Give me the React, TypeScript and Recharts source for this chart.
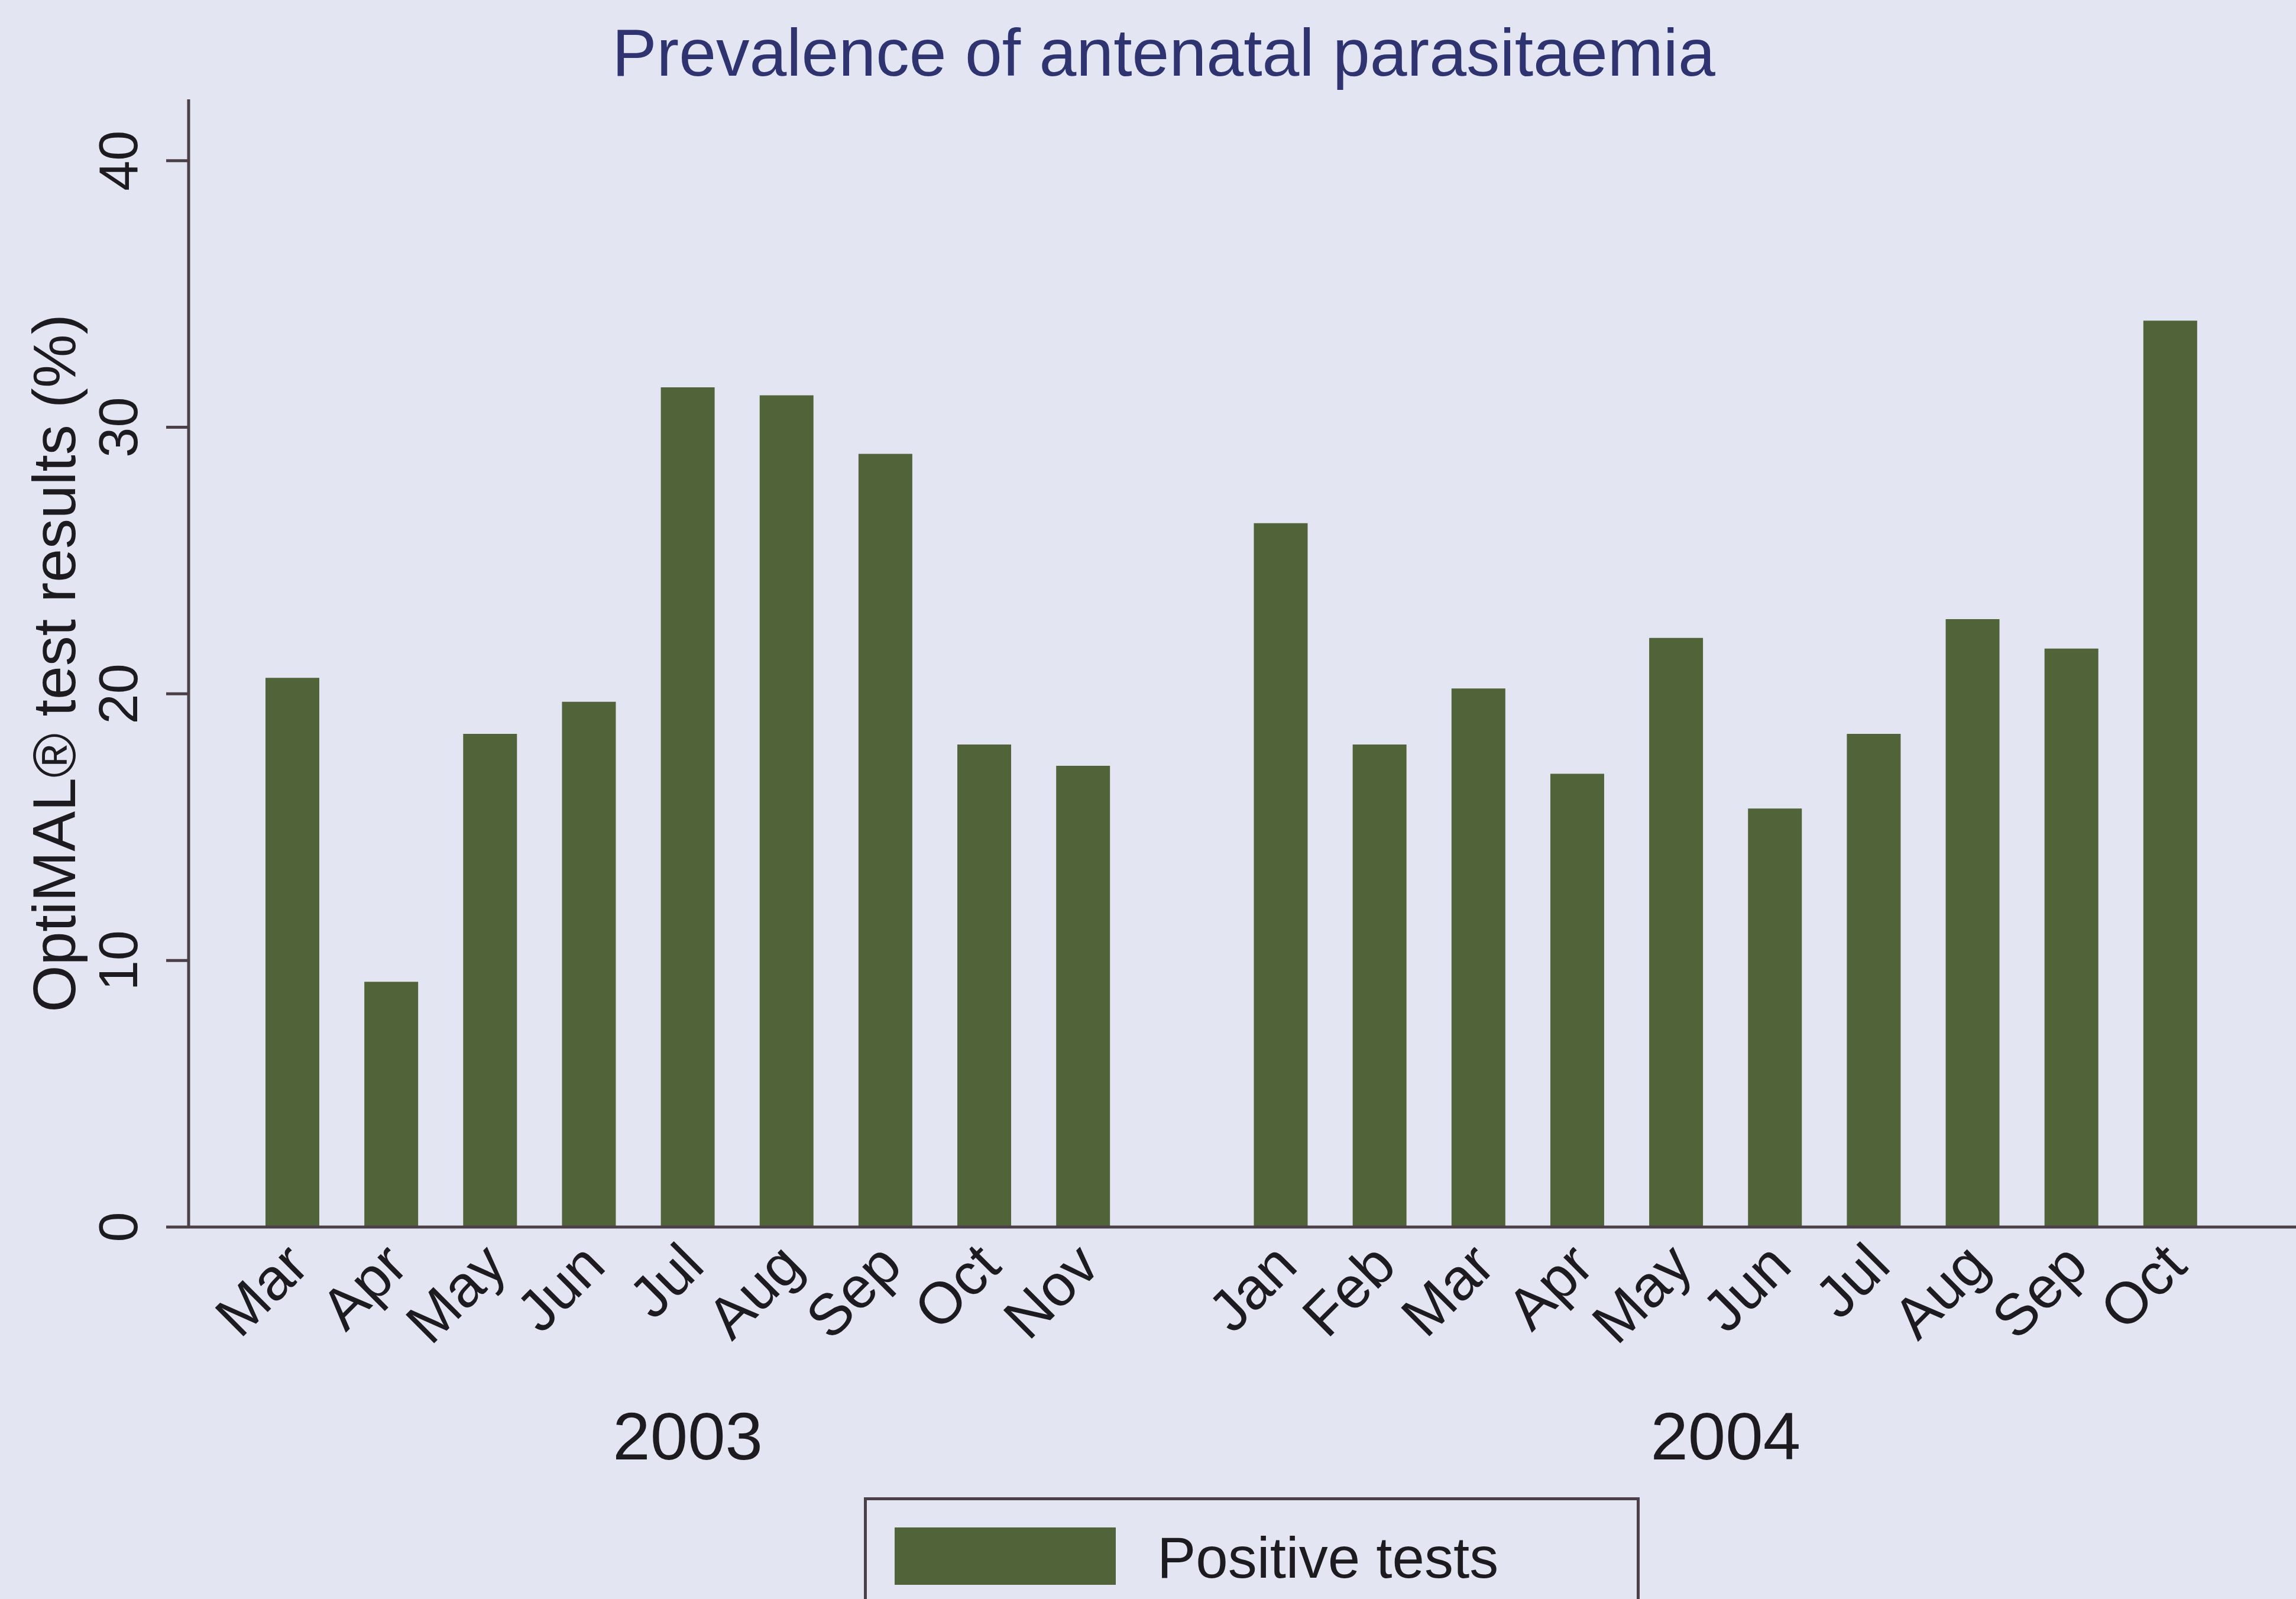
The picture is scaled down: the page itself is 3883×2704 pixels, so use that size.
import React from "react"
import { Bar, BarChart, XAxis, YAxis } from "recharts"

// monthly share of positive OptiMAL tests (%)
const months2003 = ["Mar", "Apr", "May", "Jun", "Jul", "Aug", "Sep", "Oct", "Nov"]
const positive2003 = [20.6, 9.2, 18.5, 19.7, 31.5, 31.2, 29.0, 18.1, 17.3]
const months2004 = ["Jan", "Feb", "Mar", "Apr", "May", "Jun", "Jul", "Aug", "Sep", "Oct"]
const positive2004 = [26.4, 18.1, 20.2, 17.0, 22.1, 15.7, 18.5, 22.8, 21.7, 34.0]
const years = ["2003", "2004"]
const yTicks = [0, 10, 20, 30, 40]
const seriesName = "Positive tests"
const title = "Prevalence of antenatal parasitaemia"
const yTitle = "OptiMAL® test results (%)"

type Row = { key: string; month: string; year: string; value: number | null }

const data: Row[] = [
  ...months2003.map((m, i) => ({ key: `2003-${m}`, month: m, year: years[0], value: positive2003[i] })),
  // December 2003 is missing, leave an empty slot
  { key: "gap", month: "", year: "", value: null },
  ...months2004.map((m, i) => ({ key: `2004-${m}`, month: m, year: years[1], value: positive2004[i] })),
]

const W = 3883
const H = 2704
const AXIS_X = 319
const TOP = 168
const BOTTOM = 2075
const PAD_L = 92
const PAD_R = 129
const MONTH_H = 280
const YEAR_H = 160
const STEP = (W - AXIS_X - PAD_L - PAD_R) / data.length

const FONT = "'Liberation Sans', Arial, Helvetica, sans-serif"
const BG = "#e3e6f2"
const BAR = "#506339"
const AXIS = "#4b4048"
const INK = "#1d1b1f"
const TITLE = "#2f3471"

if (typeof document !== "undefined") {
  document.body.style.margin = "0"
  document.body.style.background = BG
}

const YTick = ({ x, y, payload }: any) => (
  <text
    transform={`translate(${x},${y}) rotate(-90)`}
    textAnchor="middle"
    fontSize={92}
    fontFamily={FONT}
    fill={INK}
  >
    {payload.value}
  </text>
)

const YLabel = ({ viewBox }: any) => (
  <text
    transform={`translate(${viewBox.x + 127},${viewBox.y + viewBox.height / 2}) rotate(-90)`}
    textAnchor="middle"
    fontSize={102}
    fontFamily={FONT}
    fill={INK}
  >
    {yTitle}
  </text>
)

const MonthTick = ({ x, y, payload }: any) => {
  const row = data.find((d) => d.key === payload.value)
  if (!row || !row.month) return null
  return (
    <text
      transform={`translate(${x + 32},${y + 70}) rotate(-45)`}
      textAnchor="end"
      fontSize={99}
      fontFamily={FONT}
      fill={INK}
    >
      {row.month}
    </text>
  )
}

const YearTick = ({ x, y, payload }: any) => {
  const idx = data.findIndex((d) => d.key === payload.value)
  const row = data[idx]
  if (!row || !row.year) return null
  const first = data.findIndex((d) => d.year === row.year)
  if (idx !== first) return null
  let last = first
  data.forEach((d, i) => {
    if (d.year === row.year) last = i
  })
  const cx = x + ((last - first) / 2) * STEP
  return (
    <text x={cx} y={y + 113} textAnchor="middle" fontSize={114} fontFamily={FONT} fill={INK}>
      {row.year}
    </text>
  )
}

export default function App() {
  return (
    <div style={{ position: "relative", width: W, height: H, background: BG, overflow: "hidden" }}>
      <div
        style={{
          position: "absolute",
          left: 1968,
          top: 33,
          transform: "translateX(-50%)",
          fontFamily: FONT,
          fontSize: 113,
          lineHeight: "113px",
          color: TITLE,
          whiteSpace: "nowrap",
        }}
      >
        {title}
      </div>

      <BarChart
        width={W}
        height={H}
        data={data}
        margin={{ top: TOP, right: 0, left: 0, bottom: H - BOTTOM - MONTH_H - YEAR_H }}
      >
        <YAxis
          width={AXIS_X}
          domain={[0, 42.3]}
          ticks={yTicks}
          interval={0}
          tickSize={38}
          tickMargin={49}
          axisLine={{ stroke: AXIS, strokeWidth: 5 }}
          tickLine={{ stroke: AXIS, strokeWidth: 5 }}
          tick={<YTick />}
          label={<YLabel />}
        />
        <XAxis
          dataKey="key"
          interval={0}
          height={MONTH_H}
          padding={{ left: PAD_L, right: PAD_R }}
          tickLine={false}
          tickSize={0}
          tickMargin={0}
          axisLine={{ stroke: AXIS, strokeWidth: 5 }}
          tick={<MonthTick />}
        />
        <XAxis
          xAxisId="year"
          dataKey="key"
          interval={0}
          height={YEAR_H}
          padding={{ left: PAD_L, right: PAD_R }}
          axisLine={false}
          tickLine={false}
          tickSize={0}
          tickMargin={0}
          tick={<YearTick />}
        />
        <Bar dataKey="value" name={seriesName} fill={BAR} barSize={91} isAnimationActive={false} />
      </BarChart>

      <div
        style={{
          position: "absolute",
          left: 1461,
          top: 2532,
          width: 1312,
          height: 280,
          border: `5px solid ${AXIS}`,
          boxSizing: "border-box",
        }}
      >
        <div style={{ position: "absolute", left: 47, top: 46, width: 374, height: 97, background: BAR }} />
        <div
          style={{
            position: "absolute",
            left: 491,
            top: 48,
            fontFamily: FONT,
            fontSize: 98,
            lineHeight: "98px",
            color: INK,
            whiteSpace: "nowrap",
          }}
        >
          {seriesName}
        </div>
      </div>
    </div>
  )
}
